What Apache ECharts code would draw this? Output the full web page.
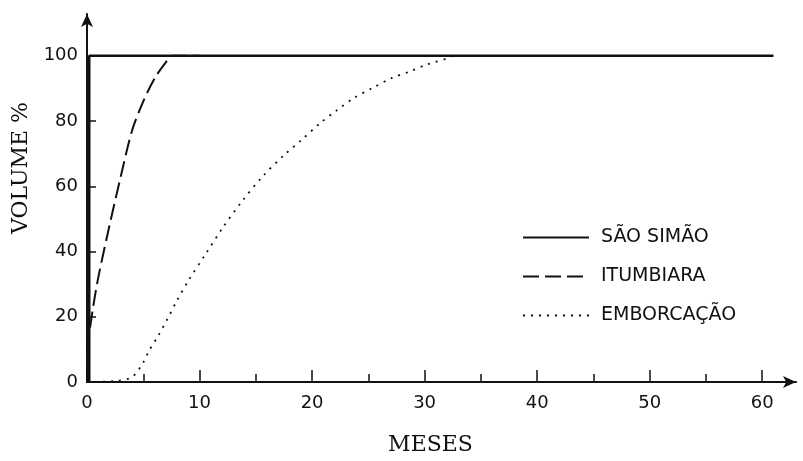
<!DOCTYPE html>
<html>
<head>
<meta charset="utf-8">
<script src="https://cdn.jsdelivr.net/npm/echarts@6/dist/echarts.min.js"></script>
<style>html,body{margin:0;padding:0;background:#fff;}#c{width:803px;height:461px;}</style>
</head>
<body>
<div id="c"></div>
<script>
// Series names (legend)
var seriesNames = ['SÃO SIMÃO', 'ITUMBIARA', 'EMBORCAÇÃO'];
// Data: [meses, volume %]
var saoSimao = [[0.2, 0], [0.2, 100], [61, 100]];
var itumbiara = [[0, 10], [0.5, 22], [1, 32], [2, 48], [3, 63], [4, 77], [5, 86], [6, 93], [7, 98], [7.6, 100], [10, 100]];
var emborcacao = [[0, 0], [2.5, 0.3], [4, 1.5], [5, 6], [5.5, 9.5], [6.3, 14], [7.1, 19], [8, 25], [9, 31],
  [10.5, 39], [12, 47], [13.8, 55.5], [15.6, 63], [17.5, 69.5], [19, 74], [20.7, 79.3], [22.2, 83.3],
  [23.7, 87], [25.3, 90], [27.1, 93.2], [28.7, 95.2], [30.2, 97.3], [32.1, 99.3], [32.5, 100]];
// Ticks
var xLabelTicks = [0, 10, 20, 30, 40, 50, 60];
var xMinorTicks = [5, 15, 25, 35, 45, 55];
var yLabelTicks = [0, 20, 40, 60, 80, 100];
var yTickMarks = [20, 40, 60, 80];

var ink = '#111';
var chart = echarts.init(document.getElementById('c'), null, {renderer: 'canvas'});
chart.setOption({
  animation: false,
  backgroundColor: '#fff',
  grid: {left: 87, right: 7, top: 14, bottom: 76, containLabel: false},
  legend: {
    data: seriesNames,
    orient: 'vertical',
    left: 517, top: 223,
    itemWidth: 66, itemHeight: 18, itemGap: 20,
    itemStyle: {opacity: 0},
    textStyle: {fontFamily: 'DejaVu Sans', fontSize: 19, color: ink, padding: [0, 0, 0, 7]}
  },
  xAxis: [{
    type: 'value', min: 0, max: 63, interval: 10,
    name: 'MESES', nameLocation: 'middle', nameGap: 52,
    nameTextStyle: {fontFamily: 'DejaVu Serif', fontSize: 22, color: ink, padding: [0, 22, 0, 0]},
    axisLine: {show: true, lineStyle: {color: ink, width: 2}, symbol: ['none', 'arrow'], symbolSize: [9, 13]},
    axisTick: {show: true, inside: true, length: 12, customValues: xLabelTicks, lineStyle: {color: ink, width: 1.5}},
    axisLabel: {customValues: xLabelTicks, fontFamily: 'DejaVu Sans', fontSize: 18, color: ink, margin: 12},
    splitLine: {show: false}
  }, {
    type: 'value', min: 0, max: 63, position: 'bottom', offset: 0,
    axisLine: {show: false},
    axisTick: {show: true, inside: true, length: 8, customValues: xMinorTicks, lineStyle: {color: ink, width: 1.5}},
    axisLabel: {show: false},
    splitLine: {show: false}
  }],
  yAxis: {
    type: 'value', min: 0, max: 112.8, interval: 20,
    name: 'VOLUME %', nameLocation: 'middle', nameGap: 47, nameRotate: 90,
    nameTextStyle: {fontFamily: 'DejaVu Serif', fontSize: 22, color: ink, padding: [0, 0, 0, 60]},
    axisLine: {show: true, lineStyle: {color: ink, width: 2}, symbol: ['none', 'arrow'], symbolSize: [9, 13]},
    axisTick: {show: true, inside: true, length: 9, customValues: yTickMarks, lineStyle: {color: ink, width: 1.5}},
    axisLabel: {customValues: yLabelTicks, fontFamily: 'DejaVu Sans', fontSize: 18, color: ink, margin: 9},
    splitLine: {show: false}
  },
  series: [{
    name: seriesNames[0], type: 'line', data: saoSimao, symbol: 'none',
    lineStyle: {color: ink, width: 2.5, type: 'solid'}, itemStyle: {color: ink}
  }, {
    name: seriesNames[1], type: 'line', data: itumbiara, symbol: 'none', smooth: 0.3,
    lineStyle: {color: ink, width: 2, type: [16, 6]}, itemStyle: {color: ink}
  }, {
    name: seriesNames[2], type: 'line', data: emborcacao, symbol: 'none', smooth: 0.3,
    lineStyle: {color: ink, width: 1.8, type: [2, 6]}, itemStyle: {color: ink}
  }]
});
</script>
</body>
</html>
